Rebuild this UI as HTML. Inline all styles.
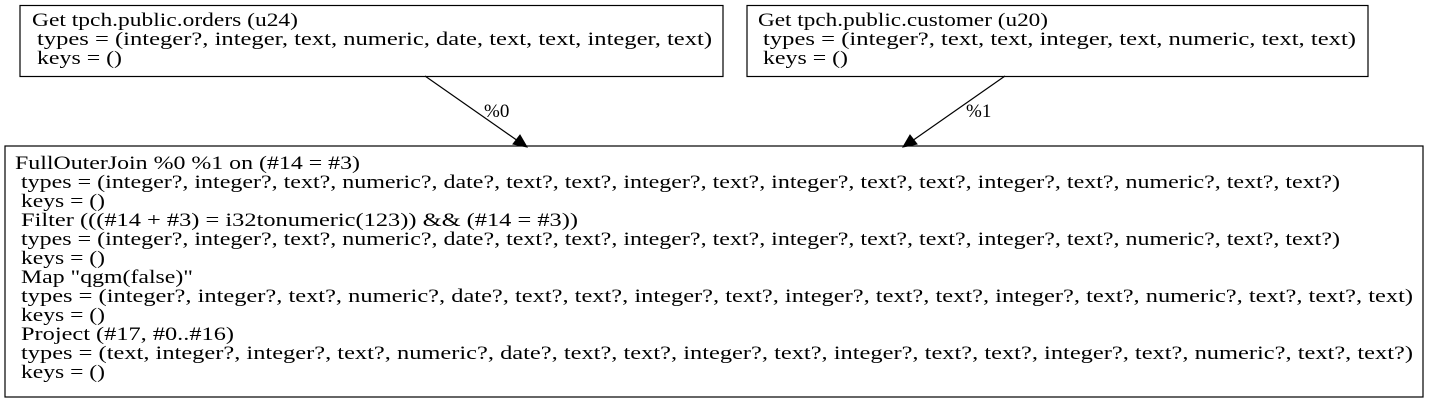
<!DOCTYPE html>
<html><head><style>body{margin:0;background:#fff}svg{display:block}text{font-family:"Liberation Serif",serif;font-size:19px;fill:#000}</style></head>
<body>
<svg width="1429" height="403" viewBox="0 0 1429 403">
<rect x="20" y="5.5" width="703" height="71" fill="none" stroke="#000" stroke-width="1.2"/>
<text x="32" y="26" textLength="266" lengthAdjust="spacingAndGlyphs">Get tpch.public.orders (u24)</text>
<text x="37" y="45" textLength="675" lengthAdjust="spacingAndGlyphs">types = (integer?, integer, text, numeric, date, text, text, integer, text)</text>
<text x="37" y="64" textLength="85" lengthAdjust="spacingAndGlyphs">keys = ()</text>
<rect x="747" y="5.5" width="621" height="71" fill="none" stroke="#000" stroke-width="1.2"/>
<text x="758" y="26" textLength="290" lengthAdjust="spacingAndGlyphs">Get tpch.public.customer (u20)</text>
<text x="763" y="45" textLength="593" lengthAdjust="spacingAndGlyphs">types = (integer?, text, text, integer, text, numeric, text, text)</text>
<text x="763" y="64" textLength="85" lengthAdjust="spacingAndGlyphs">keys = ()</text>
<rect x="5" y="146" width="1418" height="251" fill="none" stroke="#000" stroke-width="1.2"/>
<text x="15" y="169" textLength="345" lengthAdjust="spacingAndGlyphs">FullOuterJoin %0 %1 on (#14 = #3)</text>
<text x="21" y="188" textLength="1319" lengthAdjust="spacingAndGlyphs">types = (integer?, integer?, text?, numeric?, date?, text?, text?, integer?, text?, integer?, text?, text?, integer?, text?, numeric?, text?, text?)</text>
<text x="21" y="207" textLength="84" lengthAdjust="spacingAndGlyphs">keys = ()</text>
<text x="21" y="226" textLength="557" lengthAdjust="spacingAndGlyphs">Filter (((#14 + #3) = i32tonumeric(123)) &amp;&amp; (#14 = #3))</text>
<text x="21" y="245" textLength="1319" lengthAdjust="spacingAndGlyphs">types = (integer?, integer?, text?, numeric?, date?, text?, text?, integer?, text?, integer?, text?, text?, integer?, text?, numeric?, text?, text?)</text>
<text x="21" y="264" textLength="84" lengthAdjust="spacingAndGlyphs">keys = ()</text>
<text x="21" y="283" textLength="172" lengthAdjust="spacingAndGlyphs">Map "qgm(false)"</text>
<text x="21" y="302" textLength="1392" lengthAdjust="spacingAndGlyphs">types = (integer?, integer?, text?, numeric?, date?, text?, text?, integer?, text?, integer?, text?, text?, integer?, text?, numeric?, text?, text?, text)</text>
<text x="21" y="321" textLength="84" lengthAdjust="spacingAndGlyphs">keys = ()</text>
<text x="21" y="340" textLength="213" lengthAdjust="spacingAndGlyphs">Project (#17, #0..#16)</text>
<text x="21" y="359" textLength="1392" lengthAdjust="spacingAndGlyphs">types = (text, integer?, integer?, text?, numeric?, date?, text?, text?, integer?, text?, integer?, text?, text?, integer?, text?, numeric?, text?, text?)</text>
<text x="21" y="378" textLength="84" lengthAdjust="spacingAndGlyphs">keys = ()</text>
<line x1="425" y1="76" x2="518" y2="141" stroke="#000" stroke-width="1.2"/>
<polygon points="527,147 513,144 520,135" fill="#000" stroke="#000"/>
<text x="484" y="117">%0</text>
<line x1="1005" y1="76" x2="912" y2="141" stroke="#000" stroke-width="1.2"/>
<polygon points="903,147 910,135 917,144" fill="#000" stroke="#000"/>
<text x="966" y="117">%1</text>
</svg>
</body></html>
